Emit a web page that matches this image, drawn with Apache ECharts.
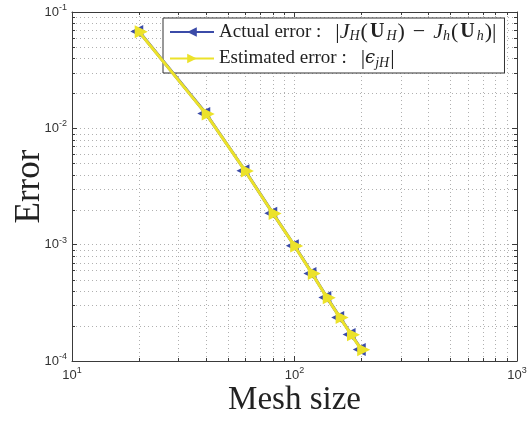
<!DOCTYPE html>
<html>
<head>
<meta charset="utf-8">
<script src="https://cdn.jsdelivr.net/npm/echarts@6/dist/echarts.min.js"></script>
<style>html,body{margin:0;padding:0;background:#fff}#c{width:528px;height:421px}</style>
</head>
<body>
<div id="c"></div>
<script>
const meshSize = [20, 40, 60, 80, 100, 120, 140, 160, 180, 200];
const actualError = [0.0680, 0.0134, 0.00432, 0.00186, 9.78e-4, 5.66e-4, 3.51e-4, 2.37e-4, 1.69e-4, 1.255e-4];
const estimatedError = [0.0676, 0.0133, 0.00430, 0.001854, 9.75e-4, 5.64e-4, 3.50e-4, 2.36e-4, 1.68e-4, 1.25e-4];
const xMajorTicks = [10, 100, 1000];
const yMajorTicks = [1e-4, 1e-3, 1e-2, 1e-1];
const xMinorTicks = [20, 30, 40, 50, 60, 70, 80, 90, 200, 300, 400, 500, 600, 700, 800, 900];
const yMinorTicks = [2e-4, 3e-4, 4e-4, 5e-4, 6e-4, 7e-4, 8e-4, 9e-4,
                     2e-3, 3e-3, 4e-3, 5e-3, 6e-3, 7e-3, 8e-3, 9e-3,
                     2e-2, 3e-2, 4e-2, 5e-2, 6e-2, 7e-2, 8e-2, 9e-2];

const BLUE = '#3b4ba8', YELLOW = '#ece22a';
const AXC = '#3a3a3a', GRIDC = '#b0b0b0';
const SERIF = '"Liberation Serif", "DejaVu Serif", serif';
const SANS = '"Liberation Sans", Arial, sans-serif';

function expLabel(v) {
  const e = Math.round(Math.log10(v));
  return '{b|10}{sup|' + (e < 0 ? '-' + (-e) : e) + '}';
}
const tickRich = {
  b: {fontFamily: SANS, fontSize: 13, color: '#333'},
  sup: {fontFamily: SANS, fontSize: 9, color: '#333', padding: [0, 0, 9, 0]}
};

const chart = echarts.init(document.getElementById('c'), null, {renderer: 'canvas'});
function px(v) { return Math.round(v) + 0.5; }

const legendRich = {
  i: {fontFamily: SERIF, fontSize: 22, fontStyle: 'italic', color: '#222'},
  b: {fontFamily: SERIF, fontSize: 20, fontWeight: 'bold', color: '#222', padding: [0, 2, 0, 2]},
  m: {fontFamily: SERIF, fontSize: 22, color: '#222'},
  g: {fontFamily: SERIF, fontSize: 22, color: '#222', padding: [0, 0, 0, 14]},
  op: {fontFamily: SERIF, fontSize: 22, color: '#222', padding: [0, 8, 0, 8]},
  s: {fontFamily: SERIF, fontSize: 14, fontStyle: 'italic', color: '#222', padding: [9, 1, 0, 0]},
  e: {fontFamily: '"DejaVu Serif", serif', fontSize: 18, fontStyle: 'italic', color: '#222'}
};

const option = {
  animation: false,
  backgroundColor: '#fff',
  grid: {left: 72, right: 11, top: 12, bottom: 60, containLabel: false, outerBoundsMode: 'none'},
  xAxis: [{
    type: 'log', logBase: 10, min: 10, max: 1000,
    name: 'Mesh size', nameLocation: 'middle', nameGap: 23, nameMoveOverlap: false,
    nameTextStyle: {fontFamily: SERIF, fontSize: 33, color: '#222'},
    axisLine: {show: true, onZero: false, lineStyle: {color: AXC, width: 1}},
    axisTick: {show: true, inside: true, length: 5, lineStyle: {color: AXC}},
    axisLabel: {margin: 5, formatter: expLabel, rich: tickRich},
    splitLine: {show: true, lineStyle: {color: GRIDC, type: [1, 3], width: 1}},
    minorTick: {show: false}
  }, {
    type: 'log', logBase: 10, min: 10, max: 1000, position: 'top',
    axisLine: {show: true, onZero: false, lineStyle: {color: AXC, width: 1}},
    axisTick: {show: true, inside: true, length: 5, lineStyle: {color: AXC}},
    axisLabel: {show: false}, splitLine: {show: false}
  }],
  yAxis: [{
    type: 'log', logBase: 10, min: 1e-4, max: 1e-1,
    name: 'Error', nameLocation: 'middle', nameGap: 25, nameRotate: 90, nameMoveOverlap: false,
    nameTextStyle: {fontFamily: SERIF, fontSize: 35, color: '#222'},
    axisLine: {show: true, onZero: false, lineStyle: {color: AXC, width: 1}},
    axisTick: {show: true, inside: true, length: 5, lineStyle: {color: AXC}},
    axisLabel: {margin: 5, formatter: expLabel, rich: tickRich},
    splitLine: {show: true, lineStyle: {color: GRIDC, type: [1, 3], width: 1}}
  }, {
    type: 'log', logBase: 10, min: 1e-4, max: 1e-1, position: 'right',
    axisLine: {show: true, onZero: false, lineStyle: {color: AXC, width: 1}},
    axisTick: {show: true, inside: true, length: 5, lineStyle: {color: AXC}},
    axisLabel: {show: false}, splitLine: {show: false}
  }],
  legend: {
    orient: 'vertical', left: 163, top: 18, z: 2,
    data: ['Actual error', 'Estimated error'],
    backgroundColor: '#fff', borderColor: '#333', borderWidth: 1,
    padding: [3, 8, 3, 6], itemGap: 4, itemWidth: 44, itemHeight: 12,
    formatter: function (name) {
      if (name === 'Actual error') {
        return 'Actual error :{g||}{i|J}{s|H}{m|(}{b|U}{s|H}{m|)}{op|−}{i|J}{s|h}{m|(}{b|U}{s|h}{m|)|}';
      }
      return 'Estimated error :{g||}{e|ϵ}{s|jH}{m||}';
    },
    textStyle: {
      fontFamily: SERIF, fontSize: 19, color: '#222',
      rich: legendRich
    }
  },
  series: [{
    name: 'xminor', type: 'custom', silent: true, z: 1,
    xAxisIndex: 0, yAxisIndex: 0,
    data: xMinorTicks.map(v => [v, 1e-3]),
    encode: {x: 0, y: 1},
    renderItem: function (params, api) {
      const cs = params.coordSys;
      const x = px(api.coord([api.value(0), 1e-3])[0]);
      const top = cs.y, bot = cs.y + cs.height;
      return {type: 'group', children: [
        {type: 'line', shape: {x1: x, y1: top, x2: x, y2: bot}, style: {stroke: GRIDC, lineWidth: 1, lineDash: [1, 3]}},
        {type: 'line', shape: {x1: x, y1: bot, x2: x, y2: bot - 3}, style: {stroke: AXC, lineWidth: 1}},
        {type: 'line', shape: {x1: x, y1: top, x2: x, y2: top + 3}, style: {stroke: AXC, lineWidth: 1}}
      ]};
    }
  }, {
    name: 'yminor', type: 'custom', silent: true, z: 1,
    xAxisIndex: 0, yAxisIndex: 0,
    data: yMinorTicks.map(v => [100, v]),
    encode: {x: 0, y: 1},
    renderItem: function (params, api) {
      const cs = params.coordSys;
      const y = px(api.coord([100, api.value(1)])[1]);
      const l = cs.x, r = cs.x + cs.width;
      return {type: 'group', children: [
        {type: 'line', shape: {x1: l, y1: y, x2: r, y2: y}, style: {stroke: GRIDC, lineWidth: 1, lineDash: [1, 3]}},
        {type: 'line', shape: {x1: l, y1: y, x2: l + 3, y2: y}, style: {stroke: AXC, lineWidth: 1}},
        {type: 'line', shape: {x1: r, y1: y, x2: r - 3, y2: y}, style: {stroke: AXC, lineWidth: 1}}
      ]};
    }
  }, {
    name: 'Actual error', type: 'line', z: 3,
    data: meshSize.map((x, i) => [x, actualError[i]]),
    symbol: 'path://M0,5L10,0L10,10Z', symbolSize: 13, symbolKeepAspect: true,
    symbolOffset: ['-17%', 0],
    lineStyle: {color: BLUE, width: 3},
    itemStyle: {color: BLUE, borderWidth: 0},
    color: BLUE
  }, {
    name: 'Estimated error', type: 'line', z: 4,
    data: meshSize.map((x, i) => [x, estimatedError[i]]),
    symbol: 'path://M10,5L0,0L0,10Z', symbolSize: 13, symbolKeepAspect: true,
    symbolOffset: ['17%', 0],
    lineStyle: {color: YELLOW, width: 3},
    itemStyle: {color: YELLOW, borderWidth: 0},
    color: YELLOW
  }]
};
chart.setOption(option);
</script>
</body>
</html>
